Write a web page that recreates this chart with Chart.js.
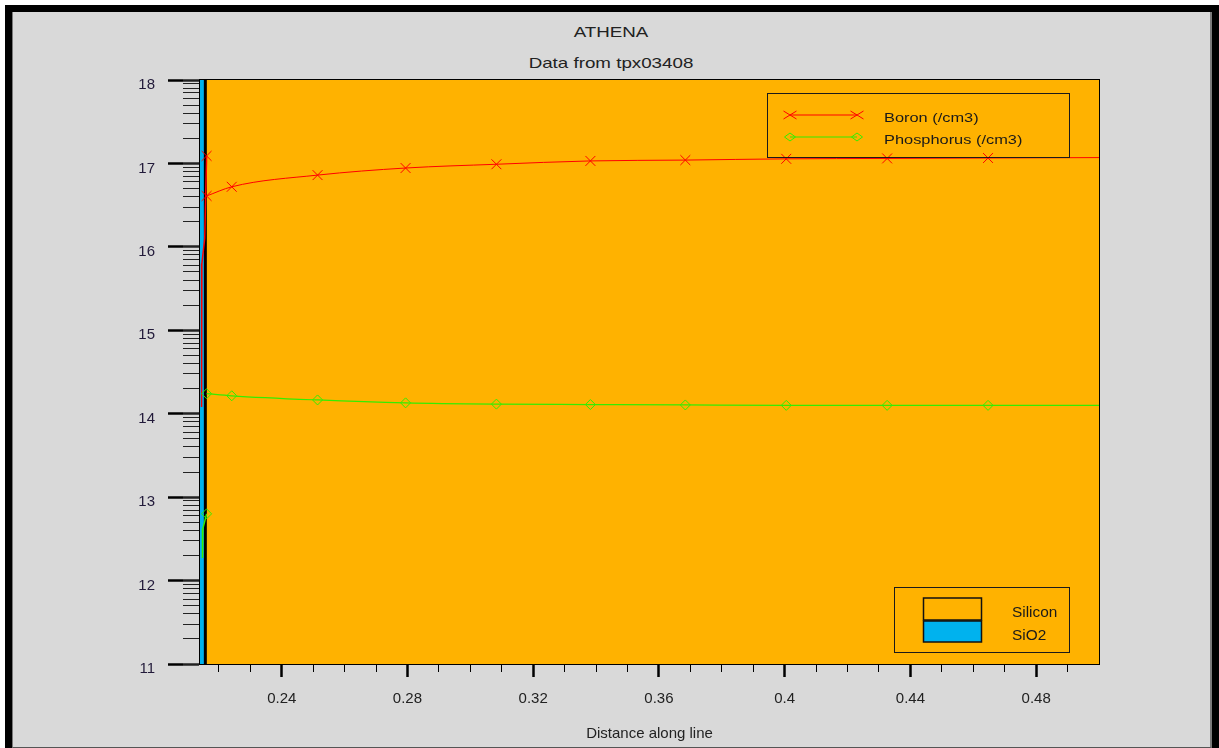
<!DOCTYPE html>
<html><head><meta charset="utf-8">
<script src="https://cdn.jsdelivr.net/npm/chart.js@4.4.1/dist/chart.umd.min.js"></script>
<style>
html,body{margin:0;padding:0;background:#fff;width:1219px;height:748px;overflow:hidden;font-family:"Liberation Sans",Arial,sans-serif;color:#222;}
#frame{position:absolute;left:5px;top:5px;width:1214px;height:743px;background:#000;}
#inner{position:absolute;left:12px;top:12px;width:1197px;height:735px;background:#d9d9d9;border-left:1px solid #7a7a7a;border-right:2px solid #7a7a7a;border-bottom:1px solid #555;}
#cv{position:absolute;left:0;top:0;}
.t{position:absolute;left:0;width:1222px;text-align:center;font-size:15px;line-height:16px;transform:scaleX(1.25);transform-origin:611px 0;}
.box{position:absolute;box-sizing:border-box;border:1.5px solid #1a1a1a;}
.lt{position:absolute;font-size:13px;line-height:15px;white-space:nowrap;transform:scaleX(1.26);transform-origin:0 0;color:#1a1a1a;}
svg{position:absolute;left:0;top:0;overflow:visible;}
</style></head>
<body>
<div id="frame"></div><div id="inner"></div>
<div class="t" style="top:24px">ATHENA</div>
<div class="t" style="top:55px">Data from tpx03408</div>
<canvas id="cv" width="1219" height="748"></canvas>
<div class="box" style="left:767px;top:93px;width:303px;height:65px"></div>
<svg width="1219" height="748">
  <line x1="790" y1="115" x2="857" y2="115" stroke="#ff0000" stroke-width="1"/>
  <path d="M783.5 111 L796.5 119 M783.5 119 L796.5 111 M850.5 111 L863.5 119 M850.5 119 L863.5 111" stroke="#ff0000" stroke-width="1" fill="none"/>
  <line x1="790" y1="137" x2="857" y2="137" stroke="#33ee00" stroke-width="1.2"/>
  <path d="M784.5 137 L790 133 L795.5 137 L790 141 Z M851.5 137 L857 133 L862.5 137 L857 141 Z" stroke="#33ee00" stroke-width="1" fill="none"/>
  <rect x="923.5" y="598" width="58" height="22" fill="#ffb200" stroke="#111" stroke-width="1.5"/>
  <rect x="923.5" y="621" width="58" height="21" fill="#00b2ee" stroke="#111" stroke-width="1.5"/>
</svg>
<div class="lt" style="left:884px;top:110px">Boron (/cm3)</div>
<div class="lt" style="left:884px;top:132px">Phosphorus (/cm3)</div>
<div class="box" style="left:894px;top:587px;width:176px;height:66px"></div>
<div class="lt" style="left:1012px;top:605px;font-size:14px;transform:scaleX(1.1)">Silicon</div>
<div class="lt" style="left:1012px;top:628px;font-size:14px;transform:scaleX(1.1)">SiO2</div>
<script>
// ---- axis ranges and ticks ----
const xRange = [0.214, 0.5];
const yRange = [11, 18];
const yMajorTicks = [11, 12, 13, 14, 15, 16, 17, 18];
const yMinorSteps = [2, 3, 4, 5, 6, 7, 8, 9];
const xMajorTicks = [0.24, 0.28, 0.32, 0.36, 0.40, 0.44, 0.48];
const xTickLabels = ['0.24', '0.28', '0.32', '0.36', '0.4', '0.44', '0.48'];
const xMinorTicks = [0.22, 0.23, 0.24, 0.25, 0.26, 0.27, 0.28, 0.29, 0.30, 0.31, 0.32, 0.33, 0.34, 0.35, 0.36, 0.37, 0.38, 0.39, 0.40, 0.41, 0.42, 0.43, 0.44, 0.45, 0.46, 0.47, 0.48, 0.49];

// ---- material regions (x extents) ----
const oxideX = [0.214, 0.2157];
const siliconX = [0.2157, 0.5];
const interfaceX = 0.2157;

// ---- Boron (/cm3), log10 values ----
const boronSiX = [0.2161, 0.2241, 0.2514, 0.2794, 0.3083, 0.3382, 0.3684, 0.4005, 0.4326, 0.4647, 0.5000];
const boronSiY = [16.61, 16.72, 16.86, 16.945, 16.99, 17.03, 17.04, 17.055, 17.06, 17.065, 17.07];
const boronOxX = [0.2161, 0.2155, 0.2146, 0.2145, 0.2145];
const boronOxY = [17.09, 16.1, 15.8, 14.9, 14.08];

// ---- Phosphorus (/cm3), log10 values ----
const phosSiX = [0.2161, 0.2241, 0.2514, 0.2794, 0.3083, 0.3382, 0.3684, 0.4005, 0.4326, 0.4647, 0.5000];
const phosSiY = [14.24, 14.215, 14.165, 14.13, 14.115, 14.11, 14.105, 14.10, 14.10, 14.10, 14.10];
const phosOxX = [0.2161, 0.2149, 0.2148, 0.2148];
const phosOxY = [12.80, 12.62, 12.45, 12.27];

const pts = (xs, ys) => xs.map((x, i) => ({x: x, y: ys[i]}));
const FONT = '"Liberation Sans", Arial, sans-serif';
const RED = '#ff0000', GREEN = '#33ee00', ORANGE = '#ffb200', BLUE = '#00b2ee';

const yAllTicks = [];
yMajorTicks.forEach(m => {
  yAllTicks.push(m);
  if (m < yRange[1]) yMinorSteps.forEach(k => yAllTicks.push(m + Math.log10(k)));
});
const isMajorY = v => yMajorTicks.some(m => Math.abs(m - v) < 1e-6);
const isMajorX = v => xMajorTicks.some(m => Math.abs(m - v) < 1e-6);

const data = {
  datasets: [
    {label: 'Silicon', data: pts(siliconX, [yRange[1], yRange[1]]), showLine: true, fill: 'start',
     backgroundColor: ORANGE, borderWidth: 0, pointRadius: 0, order: 10},
    {label: 'SiO2', data: pts(oxideX, [yRange[1], yRange[1]]), showLine: true, fill: 'start',
     backgroundColor: BLUE, borderWidth: 0, pointRadius: 0, order: 9},
    {label: 'interface', data: pts([interfaceX, interfaceX], yRange), showLine: true, fill: false,
     borderColor: '#000', borderWidth: 3, pointRadius: 0, order: 8},
    {label: 'Boron (/cm3)', data: pts(boronSiX, boronSiY), showLine: true, fill: false,
     borderColor: RED, borderWidth: 1, pointStyle: 'crossRot',
     pointRadius: c => c.dataIndex < boronSiX.length - 1 ? 7 : 0,
     pointBorderColor: RED, pointBorderWidth: 1, order: 2, cubicInterpolationMode: 'monotone'},
    {label: 'Boron oxide', data: pts(boronOxX, boronOxY), showLine: true, fill: false,
     borderColor: RED, borderWidth: 1.5, pointStyle: 'crossRot',
     pointRadius: c => c.dataIndex === 0 ? 7 : 0,
     pointBorderColor: RED, pointBorderWidth: 1, order: 3},
    {label: 'Phosphorus (/cm3)', data: pts(phosSiX, phosSiY), showLine: true, fill: false,
     borderColor: GREEN, borderWidth: 1.2, pointStyle: 'rectRot',
     pointRadius: c => c.dataIndex < phosSiX.length - 1 ? 5 : 0,
     pointBorderColor: GREEN, pointBackgroundColor: 'rgba(0,0,0,0)', pointBorderWidth: 1, order: 1, cubicInterpolationMode: 'monotone'},
    {label: 'Phosphorus oxide', data: pts(phosOxX, phosOxY), showLine: true, fill: false,
     borderColor: GREEN, borderWidth: 1.5, pointStyle: 'rectRot',
     pointRadius: c => c.dataIndex === 0 ? 5 : 0,
     pointBorderColor: GREEN, pointBackgroundColor: 'rgba(0,0,0,0)', pointBorderWidth: 1, order: 1},
  ]
};

new Chart(document.getElementById('cv'), {
  type: 'scatter',
  data: data,
  options: {
    responsive: false, animation: false, events: [],
    layout: {padding: 0},
    plugins: {legend: {display: false}, tooltip: {enabled: false}, title: {display: false}},
    scales: {
      x: {type: 'linear', axis: 'x', position: 'bottom', min: xRange[0], max: xRange[1], weight: 0,
        afterFit: s => { s.height = 8; },
        afterBuildTicks: s => { s.ticks = xMinorTicks.map(v => ({value: v})); },
        ticks: {display: false, autoSkip: false},
        grid: {drawOnChartArea: false, drawTicks: true, tickLength: 8, tickColor: '#000',
               tickWidth: c => (c.tick && isMajorX(c.tick.value)) ? 2.5 : 1},
        border: {display: true, color: '#000', width: 2}},
      xMaj: {type: 'linear', axis: 'x', position: 'bottom', min: xRange[0], max: xRange[1], weight: 1,
        afterFit: s => { s.height = 76; },
        afterBuildTicks: s => { s.ticks = xMajorTicks.map(v => ({value: v})); },
        ticks: {autoSkip: false, maxRotation: 0, padding: 13, color: '#222',
                font: {family: FONT, size: 15}, callback: (v, i) => xTickLabels[i]},
        grid: {drawOnChartArea: false, drawTicks: true, tickLength: 5, tickWidth: 2.5, tickColor: '#000'},
        border: {display: false},
        title: {display: true, text: 'Distance along line', color: '#222',
                font: {family: FONT, size: 15}, padding: {top: 0, bottom: 5}}},
      xTop: {type: 'linear', axis: 'x', position: 'top', min: xRange[0], max: xRange[1],
        afterFit: s => { s.height = 80; },
        ticks: {display: false},
        grid: {drawOnChartArea: false, drawTicks: false, tickColor: 'rgba(0,0,0,0)'},
        border: {display: true, color: '#000', width: 2}},
      y: {type: 'linear', axis: 'y', position: 'left', min: yRange[0], max: yRange[1], weight: 0,
        afterFit: s => { s.width = 17; },
        afterBuildTicks: s => { s.ticks = yAllTicks.map(v => ({value: v})); },
        ticks: {display: false, autoSkip: false},
        grid: {drawOnChartArea: false, drawTicks: true, tickLength: 17, tickColor: '#222',
               tickWidth: c => (c.tick && isMajorY(c.tick.value)) ? 2.5 : 1},
        border: {display: true, color: '#000', width: 2}},
      yMaj: {type: 'linear', axis: 'y', position: 'left', min: yRange[0], max: yRange[1], weight: 1,
        afterFit: s => { s.width = 183; },
        afterBuildTicks: s => { s.ticks = yMajorTicks.map(v => ({value: v})); },
        ticks: {autoSkip: false, padding: 13, labelOffset: 5, color: '#221a3a',
                font: {family: FONT, size: 15}, callback: v => String(Math.round(v))},
        grid: {drawOnChartArea: false, drawTicks: true, tickLength: 15, tickWidth: 2.5, tickColor: '#000'},
        border: {display: false}},
      yRight: {type: 'linear', axis: 'y', position: 'right', min: yRange[0], max: yRange[1],
        afterFit: s => { s.width = 120; },
        ticks: {display: false},
        grid: {drawOnChartArea: false, drawTicks: false, tickColor: 'rgba(0,0,0,0)'},
        border: {display: true, color: '#000', width: 2}}
    }
  }
});
</script>
</body></html>
